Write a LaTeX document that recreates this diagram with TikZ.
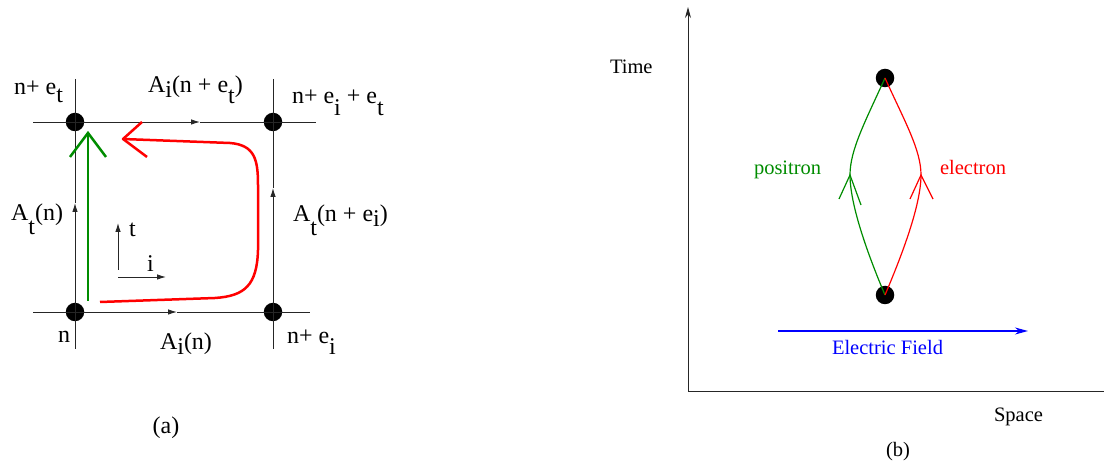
\documentclass[tikz,border=0pt]{standalone}
\usepackage{fontspec}
\setmainfont{Liberation Serif}
\usetikzlibrary{arrows.meta}
\definecolor{figgreen}{RGB}{0,140,0}
\newcommand{\dn}[2][0.5em]{\raisebox{-#1}{#2}}
\begin{document}
\begin{tikzpicture}[x=1pt,y=-1pt,
  every node/.style={inner sep=0pt,outer sep=0pt,font=\fontsize{20.5}{24}\selectfont},
  big/.style={font=\fontsize{24}{28}\selectfont},
  dot/.style={circle,fill=black,minimum size=18.5pt},
  grid/.style={line width=0.9pt,black!85},
  midarrow/.style={grid,-{Latex[length=9pt,width=5.5pt]}},
  thick red/.style={red,line width=2.5pt,line join=round},
  thick green/.style={figgreen,line width=2.5pt},
  thin red/.style={red,line width=1.2pt},
  thin green/.style={figgreen,line width=1.2pt},
  lab/.style={anchor=base west}]
\useasboundingbox (0,0) rectangle (1104,462);

% ---------------- panel (a) ----------------
\node[dot] (tl) at (75,122) {};
\node[dot] (tr) at (273,122) {};
\node[dot] (bl) at (75,312) {};
\node[dot] (br) at (273,312) {};

\coordinate (tlW) at (33,122);  \coordinate (trE) at (316,122);
\coordinate (blW) at (33,312);  \coordinate (brE) at (310,312);
\coordinate (tlN) at (75,79);   \coordinate (blS) at (75,349);
\coordinate (trN) at (273,79);  \coordinate (brS) at (273,349);
\coordinate (mtop) at (200,122); \coordinate (mbot) at (177,312);
\coordinate (mleft) at (75,203); \coordinate (mright) at (273,188);

\draw[grid] (tlW) -- (tl.center);
\draw[midarrow] (tl.center) -- (mtop);
\draw[grid] (mtop) -- (trE);
\draw[grid] (blW) -- (bl.center);
\draw[midarrow] (bl.center) -- (mbot);
\draw[grid] (mbot) -- (brE);
\draw[grid] (tlN) -- (tl.center);
\draw[midarrow] (blS) -- (mleft);
\draw[grid] (mleft) -- (tl.center);
\draw[grid] (trN) -- (tr.center);
\draw[midarrow] (brS) -- (mright);
\draw[grid] (mright) -- (tr.center);

% small axes
\coordinate (ax0) at (118,277);
\coordinate (axt0) at (118,270);
\coordinate (axt) at (118,223);
\coordinate (axi) at (166,277);
\draw[midarrow] (axt0) -- (axt);
\draw[midarrow] (ax0) -- (axi);
\node[lab,big] (tlab) at (129,237) {t};
\node[lab,big] (ilab) at (147,272) {i};

% green loop line
\coordinate (g0) at (88,301);
\coordinate (g1) at (88,133);
\draw[thick green] (g0) -- (g1);
\draw[thick green] (70,157) -- (g1) -- (106,157);

% red loop
\coordinate (r0) at (100,302);
\coordinate (r1) at (123,139);
\draw[thick red] (r0) -- (215,298) .. controls (245,296) and (257,285) .. (258,250)
  -- (258,185) .. controls (258,160) and (255,145) .. (230,143) -- (r1);
\draw[thick red] (142,122) -- (r1) -- (147,157);

% labels (a)
\node[anchor=base east,big] (l1) at (63,95) {n+ e\dn[0.33em]{t}};
\node[lab,big] (l2) at (148,93) {A\dn[0.17em]{i}(n + e\dn[0.42em]{t})};
\node[lab,big] (l3) at (292,104) {n+ e\dn[0.5em]{i} + e\dn[0.5em]{t}};
\node[anchor=base east,big] (l4) at (63,221) {A\dn[0.58em]{t}(n)};
\node[lab,big] (l5) at (293,222) {A\dn[0.58em]{t}(n + e\dn[0.2em]{i})};
\node[lab,big] (l6) at (58,343) {n};
\node[lab,big] (l7) at (160,350) {A\dn[0.17em]{i}(n)};
\node[lab,big] (l8) at (287,344) {n+ e\dn[0.45em]{i}};
\node[big] (capa) at (166,428) {(a)};

% ---------------- panel (b) ----------------
\coordinate (org) at (688,392);
\coordinate (ytop) at (688,7);
\coordinate (xend) at (1104,392);
\draw[line width=1pt,black!85,-{Stealth[length=11pt,width=6pt]}] (org) -- (ytop);
\draw[line width=1pt,black!85] (org) -- (xend);

\node[lab] (time) at (610,74) {Time};
\node[lab] (space) at (994,421) {Space};
\node (capb) at (898,452) {(b)};

\node[dot] (top) at (885,78) {};
\node[dot] (bot) at (885,295) {};

\coordinate (gp) at (850,175);
\coordinate (rp) at (921,175);
\draw[thin green] (top.center) .. controls (865,122) and (850,150) .. (gp)
  .. controls (850,205) and (868,255) .. (bot.center);
\draw[thin green] (839,199) -- (gp) -- (861,205);
\draw[thin red] (top.center) .. controls (905,122) and (921,150) .. (rp)
  .. controls (921,205) and (902,255) .. (bot.center);
\draw[thin red] (910,199) -- (rp) -- (933,199);

\node[lab,text=figgreen] (pos) at (754,175) {positron};
\node[lab,text=red] (ele) at (940,175) {electron};

\coordinate (e0) at (778,331);
\coordinate (e1) at (1028,331);
\draw[blue,line width=1.2pt,-{Stealth[length=13pt,width=7pt]}] (e0) -- (e1);
\node[lab,text=blue] (ef) at (832,355) {Electric Field};
\end{tikzpicture}
\end{document}
